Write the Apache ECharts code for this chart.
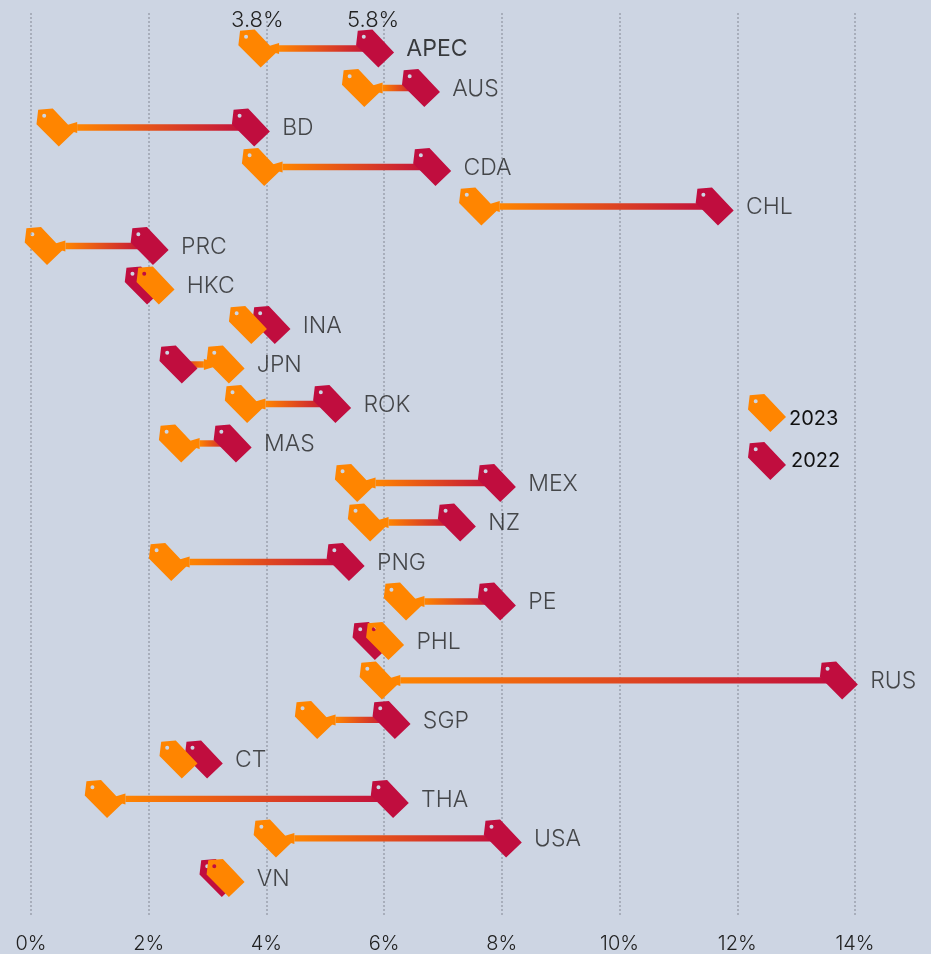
<!DOCTYPE html>
<html><head><meta charset="utf-8">
<style>html,body{margin:0;padding:0;background:#CDD5E3}#c{width:931px;height:954px}</style>
<script src="https://cdn.jsdelivr.net/npm/echarts@6/dist/echarts.min.js"></script>
</head><body><div id="c"></div>
<script>
const categories = ['APEC','AUS','BD','CDA','CHL','PRC','HKC','INA','JPN','ROK','MAS','MEX','NZ','PNG','PE','PHL','RUS','SGP','CT','THA','USA','VN'];
const values2023 = [3.8,5.56,0.37,3.86,7.55,0.17,2.07,3.64,3.26,3.57,2.45,5.44,5.66,2.28,6.27,5.97,5.86,4.76,2.46,1.19,4.06,3.26];
const values2022 = [5.8,6.58,3.69,6.77,11.57,1.97,1.87,4.04,2.46,5.07,3.38,7.87,7.19,5.3,7.87,5.74,13.68,6.08,2.89,6.05,7.97,3.14];
const ORANGE = '#FF8500', CRIMSON = '#C00D3E', BG = '#CDD5E3';
const FONT = 'Inter';
const TAG = 'path://M-16.3 -2.7 L-14.6 -17 L0 -18.3 L21.7 4.7 L6 19.7 Z M-8.6 -13 A2 2 0 0 0 -8.6 -9 A2 2 0 0 0 -8.6 -13 Z';
const TAG_SIZE = [38, 38], TAG_OFF = [2.7, 0];

function tagSeries(name, vals, color, z, topLabel, labelDx) {
  return {
    name, type: 'scatter', z, clip: false, silent: true,
    symbol: TAG, symbolSize: TAG_SIZE, symbolOffset: TAG_OFF, symbolKeepAspect: false,
    itemStyle: { color, opacity: 1 },
    data: vals.map((v, i) => i === 0 ? {
      value: [v, i],
      label: { show: true, position: 'top', distance: 0, offset: [labelDx, 1.5], formatter: topLabel, color: '#222', fontSize: 22, fontFamily: FONT, fontWeight: 300 }
    } : [v, i])
  };
}

const option = {
  backgroundColor: BG,
  animation: false,
  grid: { left: 31, width: 824, top: 13, height: 904 },
  legend: {
    orient: 'vertical', left: 748, top: 394, itemWidth: 38, itemHeight: 38, itemGap: 10,
    selectedMode: false, padding: 0,
    formatter: (n) => n === '2023' ? '\n2023' : n,
    data: [
      { name: '2023', icon: TAG, textStyle: { lineHeight: 11, padding: [0, 0, 0, -2] } },
      { name: '2022', icon: TAG }
    ],
    textStyle: { color: '#111', fontSize: 20, fontFamily: FONT, fontWeight: 400 }
  },
  xAxis: {
    type: 'value', min: 0, max: 14, interval: 2,
    axisLine: { show: false }, axisTick: { show: false },
    axisLabel: { formatter: '{value}%', color: '#222', fontSize: 20, fontFamily: FONT, fontWeight: 300, margin: 19 },
    splitLine: { show: true, lineStyle: { color: '#A8AEBB', type: [2, 2], width: 2 } }
  },
  yAxis: { type: 'value', inverse: true, min: -0.9, max: 21.94, show: false, splitLine: { show: false } },
  series: [
    {
      type: 'custom', z: 1, silent: true, clip: false,
      encode: { x: [0, 2], y: 1 },
      data: values2023.map((v, i) => [v, i, values2022[i]]),
      renderItem(params, api) {
        const a = api.coord([api.value(0), api.value(1)]);
        const b = api.coord([api.value(2), api.value(1)]);
        const y = a[1];
        const dx = b[0] - a[0];
        if (Math.abs(dx) < 20) return { type: 'group', children: [] };
        const dir = dx > 0 ? 1 : -1;
        const baseOff = dir > 0 ? 24.4 : -19;
        const apexOff = dir > 0 ? 6 : -1;
        const baseX = a[0] + baseOff, apexX = a[0] + apexOff;
        const x0 = Math.min(baseX, b[0]), x1 = Math.max(baseX, b[0]);
        const w = Math.max(0, x1 - x0);
        const grad = new echarts.graphic.LinearGradient(dir > 0 ? 0 : 1, 0, dir > 0 ? 1 : 0, 0, [
          { offset: 0, color: ORANGE }, { offset: 1, color: CRIMSON }
        ]);
        return { type: 'group', children: [
          { type: 'rect', shape: { x: x0, y: y - 3.2, width: w, height: 6.4 }, style: { fill: grad } },
          { type: 'polygon', shape: { points: [[apexX, y], [baseX, y - 5.5], [baseX, y + 5.5]] }, style: { fill: ORANGE } }
        ] };
      }
    },
    tagSeries('2022', values2022, CRIMSON, 2, '5.8%', -2),
    tagSeries('2023', values2023, ORANGE, 3, '3.8%', 0),
    {
      type: 'scatter', z: 4, silent: true, clip: false, symbolSize: 0,
      data: categories.map((c, i) => ({
        value: [Math.max(values2023[i], values2022[i]), i],
        label: {
          show: true, position: 'right', distance: 34, offset: [0, 1], formatter: c,
          fontSize: 23, fontFamily: FONT, fontWeight: i === 0 ? 400 : 300, color: i === 0 ? '#111' : '#222'
        }
      }))
    }
  ]
};
const chart = echarts.init(document.getElementById('c'), null, { renderer: 'canvas' });
chart.setOption(option);
</script></body></html>
